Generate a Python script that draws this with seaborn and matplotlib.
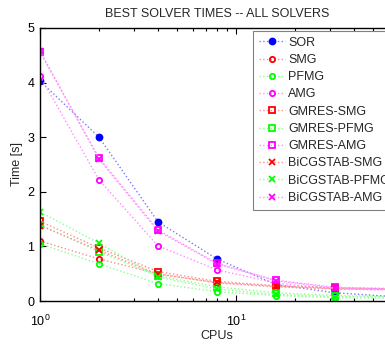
import matplotlib
matplotlib.use("Agg")
import matplotlib.pyplot as plt
import seaborn as sns
import pandas as pd
from matplotlib.ticker import LogLocator, NullFormatter, FixedLocator

# Number of processors used in each run
cpus = [1, 2, 4, 8, 16, 32, 64]

# Best wall-clock time per solver [s]
sor = [4.03, 3.00, 1.45, 0.77, 0.30, 0.15, 0.08]
smg = [1.10, 0.77, 0.50, 0.33, 0.26, 0.22, 0.21]
pfmg = [1.05, 0.68, 0.32, 0.17, 0.10, 0.06, 0.05]
amg = [4.12, 2.22, 1.01, 0.57, 0.33, 0.22, 0.20]
gmres_smg = [1.46, 0.97, 0.54, 0.36, 0.28, 0.24, 0.23]
gmres_pfmg = [1.40, 0.90, 0.46, 0.26, 0.15, 0.10, 0.08]
gmres_amg = [4.56, 2.62, 1.30, 0.69, 0.38, 0.25, 0.22]
bicg_smg = [1.38, 0.93, 0.49, 0.34, 0.27, 0.23, 0.22]
bicg_pfmg = [1.63, 1.06, 0.44, 0.22, 0.12, 0.08, 0.07]
bicg_amg = [4.58, 2.60, 1.28, 0.68, 0.37, 0.24, 0.22]

labels = ["SOR", "SMG", "PFMG", "AMG", "GMRES-SMG", "GMRES-PFMG",
          "GMRES-AMG", "BiCGSTAB-SMG", "BiCGSTAB-PFMG", "BiCGSTAB-AMG"]
series = [sor, smg, pfmg, amg, gmres_smg, gmres_pfmg, gmres_amg,
          bicg_smg, bicg_pfmg, bicg_amg]

base = {"b": "#0000ff", "r": "#ff0000", "g": "#00ff00", "m": "#ff00ff"}
pale = {"b": "#7878ff", "r": "#ff8c8c", "g": "#8cff8c", "m": "#ff8cff"}
colors = ["b", "r", "g", "m", "r", "g", "m", "r", "g", "m"]
markers = ["o", "o", "o", "o", "s", "s", "s", "x", "x", "x"]

sns.set_theme(style="white")
plt.rcParams["font.family"] = ["Liberation Sans", "DejaVu Sans"]
plt.rcParams["mathtext.fontset"] = "custom"
plt.rcParams["mathtext.rm"] = "Liberation Sans"

fig = plt.figure(figsize=(3.85, 3.46), dpi=100)
ax = fig.add_axes([40 / 385, 1 - 301 / 346, 354 / 385, 273 / 346])

for name, vals, c, mk in zip(labels, series, colors, markers):
    df = pd.DataFrame({"CPUs": cpus, "Time": vals})
    filled = name == "SOR"
    sns.lineplot(data=df, x="CPUs", y="Time", ax=ax, color=pale[c],
                 linestyle=":", linewidth=1.0, marker=mk,
                 markersize=4.3 if filled else 3.8,
                 markeredgecolor=base[c],
                 markerfacecolor=base[c] if filled else "none",
                 markeredgewidth=1.3, label=name, clip_on=True)

ax.set_xscale("log")
ax.set_xlim(1, 64)
ax.set_ylim(0, 5)
ax.yaxis.set_major_locator(FixedLocator([0, 1, 2, 3, 4, 5]))
ax.xaxis.set_major_locator(LogLocator(base=10))
ax.xaxis.set_minor_locator(LogLocator(base=10, subs=range(2, 10)))
ax.xaxis.set_minor_formatter(NullFormatter())

for s in ax.spines.values():
    s.set_color("black")
    s.set_linewidth(1.0)

ax.tick_params(which="both", direction="in", top=True, right=True,
               bottom=True, left=True, colors="black", labelsize=9)
ax.tick_params(which="major", length=4, width=0.8)
ax.tick_params(which="minor", length=2, width=0.8)
ax.tick_params(axis="x", which="major", pad=9)
ax.tick_params(axis="y", which="major", pad=4)

ax.set_xlabel("CPUs", fontsize=9, labelpad=1)
ax.set_ylabel("Time [s]", fontsize=9, labelpad=3)
ax.set_title("BEST SOLVER TIMES -- ALL SOLVERS", fontsize=9, pad=8)

leg = ax.legend(loc="upper left", bbox_to_anchor=(253 / 385, 1 - 31 / 346),
                bbox_transform=fig.transFigure, fontsize=9, frameon=True,
                fancybox=False, edgecolor="#808080", framealpha=1.0,
                handlelength=2.1, handletextpad=0.25, labelspacing=0.42,
                borderpad=0.45, borderaxespad=0)
leg.get_frame().set_linewidth(0.8)

fig.savefig("out.png", dpi=100)
